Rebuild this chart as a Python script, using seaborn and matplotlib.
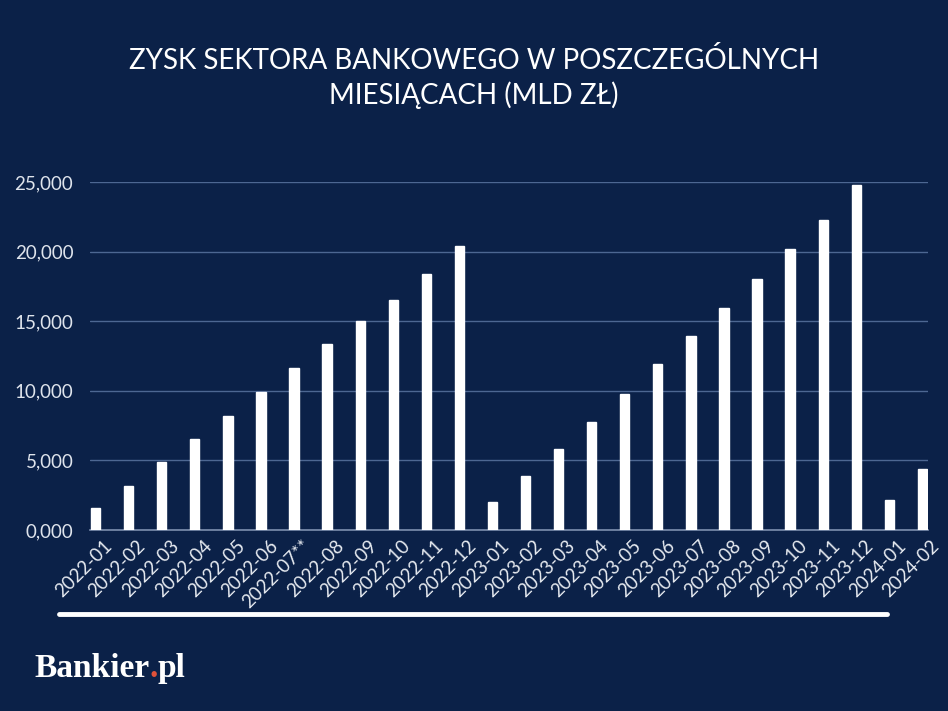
import matplotlib
matplotlib.use("Agg")
import matplotlib.pyplot as plt
import matplotlib.transforms as mtransforms
import seaborn as sns
import pandas as pd
from matplotlib.lines import Line2D

months = ["2022-01", "2022-02", "2022-03", "2022-04", "2022-05", "2022-06",
          "2022-07**", "2022-08", "2022-09", "2022-10", "2022-11", "2022-12",
          "2023-01", "2023-02", "2023-03", "2023-04", "2023-05", "2023-06",
          "2023-07", "2023-08", "2023-09", "2023-10", "2023-11", "2023-12",
          "2024-01", "2024-02"]
profit = [1.60, 3.18, 4.88, 6.51, 8.18, 9.93,
          11.67, 13.35, 15.05, 16.53, 18.37, 20.38,
          1.99, 3.85, 5.81, 7.78, 9.76, 11.89,
          13.95, 15.96, 18.06, 20.17, 22.30, 24.81,
          2.18, 4.35]
yticks = [0, 5, 10, 15, 20, 25]
ytick_labels = ["0,000", "5,000", "10,000", "15,000", "20,000", "25,000"]
title = "ZYSK SEKTORA BANKOWEGO W POSZCZEGÓLNYCH\nMIESIĄCACH (MLD ZŁ)"

BG = "#0b2148"
df = pd.DataFrame({"month": months, "profit": profit})

sns.set_style("dark")
plt.rcParams["font.family"] = ["Lato", "DejaVu Sans"]

fig = plt.figure(figsize=(9.48, 7.11), dpi=100, facecolor=BG)
ax = fig.add_axes([90 / 948, 1 - 530 / 711, (928 - 90) / 948, (530 - 182) / 711])
ax.set_facecolor(BG)

sns.barplot(data=df, x="month", y="profit", color="white", width=0.28,
            saturation=1, ax=ax, zorder=3)

ax.set_ylim(0, 25)
ax.set_xlim(-0.17, len(months) - 1 + 0.17)
ax.set_yticks(yticks)
ax.set_yticklabels(ytick_labels)
ax.yaxis.grid(True, color="#4d6792", linewidth=1, zorder=0)
ax.xaxis.grid(False)
for s in ["top", "right", "left"]:
    ax.spines[s].set_visible(False)
ax.spines["bottom"].set_color("#7d8fae")
ax.spines["bottom"].set_linewidth(1.2)
ax.tick_params(axis="both", length=0)
ax.tick_params(axis="y", labelsize=13.5, labelcolor="#dfe4ec", pad=12)
ax.tick_params(axis="x", labelsize=13.5, labelcolor="#e6eaf0", pad=5)
offset = mtransforms.ScaledTranslation(8 / 100, 0, fig.dpi_scale_trans)
for lab in ax.get_xticklabels():
    lab.set_rotation(45)
    lab.set_ha("right")
    lab.set_va("top")
    lab.set_rotation_mode("anchor")
    lab.set_transform(lab.get_transform() + offset)
ax.set_xlabel("")
ax.set_ylabel("")

fig.text(0.5, 1 - 78 / 711, title, ha="center", va="center", color="white",
         fontsize=20, linespacing=1.3)

fig.add_artist(Line2D([59 / 948, 887 / 948], [1 - 614 / 711, 1 - 614 / 711],
                      color="white", linewidth=3.5, transform=fig.transFigure))

logo_y = 1 - 677 / 711
t1 = fig.text(34 / 948, logo_y, "Bankier", color="white", fontsize=24,
              fontweight="bold", family="Liberation Serif", va="baseline")
fig.canvas.draw()
bb = t1.get_window_extent()
t2 = fig.text(bb.x1 / fig.bbox.width, logo_y, ".", color="#e0523a", fontsize=24,
              fontweight="bold", family="Liberation Serif", va="baseline")
fig.canvas.draw()
bb2 = t2.get_window_extent()
fig.text(bb2.x1 / fig.bbox.width, logo_y, "pl", color="white", fontsize=24,
         fontweight="bold", family="Liberation Serif", va="baseline")

fig.savefig("out.png", dpi=100, facecolor=BG)
